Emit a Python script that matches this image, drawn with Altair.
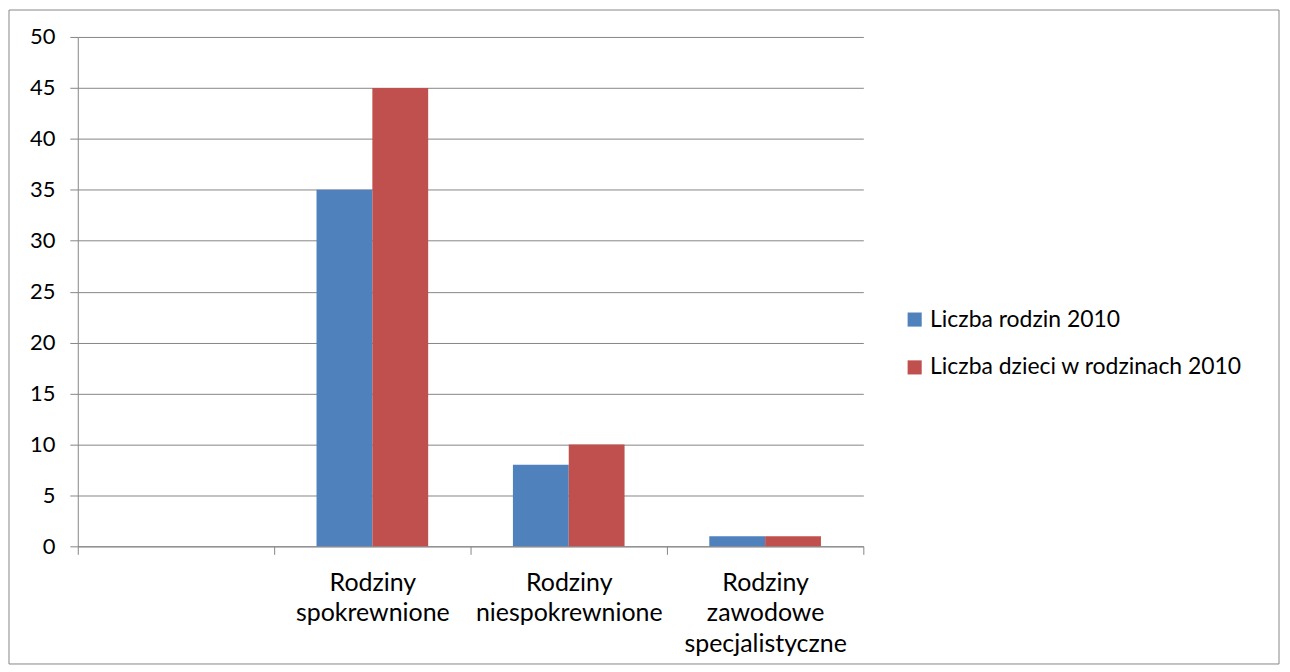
import altair as alt
import pandas as pd

categories = ["", "Rodziny spokrewnione", "Rodziny niespokrewnione", "Rodziny zawodowe specjalistyczne"]
series = ["Liczba rodzin 2010", "Liczba dzieci w rodzinach 2010"]
rodziny = [35, 8, 1]
dzieci = [45, 10, 1]
colors = ["#4F81BD", "#C0504D"]

rows = []
for c, a, b in zip(categories[1:], rodziny, dzieci):
    rows.append({"kat": c, "seria": series[0], "v": a})
    rows.append({"kat": c, "seria": series[1], "v": b})
df = pd.DataFrame(rows)

FONT = "Lato"
GRID = "#868686"

bars = alt.Chart(df).mark_bar().encode(
    x=alt.X("kat:N", scale=alt.Scale(domain=categories, paddingInner=0, paddingOuter=0),
            sort=categories,
            axis=alt.Axis(title=None, labelAngle=0, tickBand="extent", labelExpr="split(datum.label, ' ')",
                          labelFont=FONT, labelFontSize=25, labelColor="black", labelPadding=16,
                          labelLineHeight=30.5, domainColor=GRID, tickColor=GRID, tickSize=8, grid=False,
                          labelBaseline="top", labelLimit=0)),
    xOffset=alt.XOffset("seria:N", sort=series, scale=alt.Scale(domain=series, paddingInner=0, paddingOuter=0.759)),
    y=alt.Y("v:Q", scale=alt.Scale(domain=[0, 50], nice=False),
            axis=alt.Axis(title=None, values=list(range(0, 51, 5)), labelFont=FONT, labelFontSize=22,
                          labelColor="black", labelPadding=15, domainColor=GRID, tickColor=GRID, tickSize=8,
                          gridColor=GRID, gridWidth=1)),
    color=alt.Color("seria:N", scale=alt.Scale(domain=series, range=colors),
                    legend=alt.Legend(title=None, orient="none", legendX=828, legendY=272,
                                      symbolType="square", symbolSize=200, symbolStrokeWidth=0,
                                      labelFont=FONT, labelFontSize=23, labelColor="black",
                                      rowPadding=24, labelOffset=4, labelLimit=0)),
)

border = alt.Chart(pd.DataFrame({"a": [0]})).mark_rect(fill=None, stroke="#888888", strokeWidth=1, clip=False).encode(
    x=alt.value(-69), x2=alt.value(1205), y=alt.value(-27), y2=alt.value(629)
)

chart = alt.layer(bars, border).properties(
    width=788, height=511,
    padding={"left": 70, "top": 28, "right": 420, "bottom": 120},
    autosize=alt.AutoSizeParams(type="none"),
    background="white",
).configure_view(stroke=None)

chart.save("out.html", embed_options={"renderer": "svg", "actions": False})
